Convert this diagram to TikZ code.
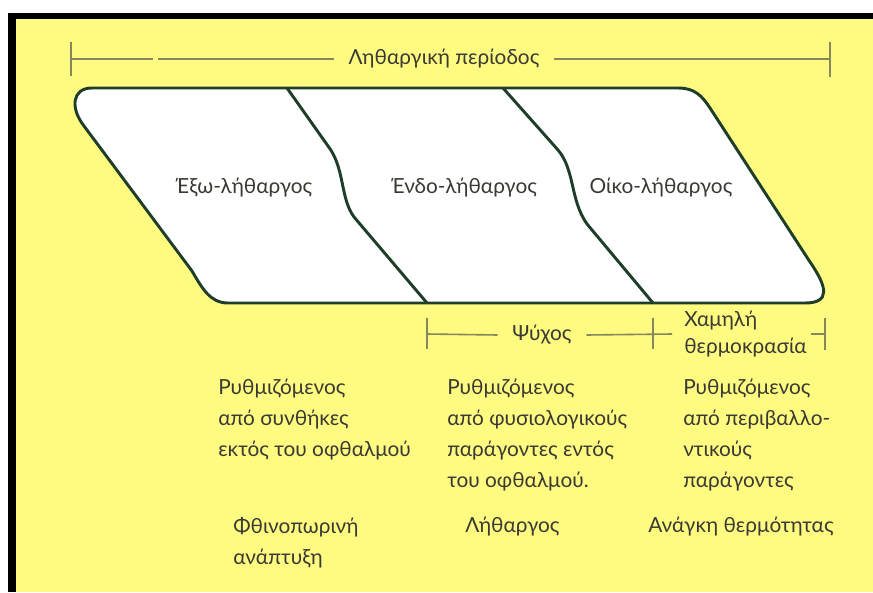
\documentclass[tikz,border=0pt]{standalone}
\usepackage{fontspec}
\setmainfont{Lato}
\definecolor{paper}{RGB}{255,250,128}
\definecolor{ink}{RGB}{58,58,52}
\definecolor{rim}{RGB}{30,62,42}
\definecolor{rule}{RGB}{135,135,95}
\begin{document}
\begin{tikzpicture}[x=0.75pt,y=-0.75pt,
  lbl/.style={text=ink,font=\fontsize{15.6}{23.2}\selectfont,inner sep=0pt},
  txt/.style={lbl,align=left,anchor=north west},
  rulebar/.style={draw=rule,line width=1.2pt}]
 \useasboundingbox (0,0) rectangle (873,592);
 % frame and paper
 \fill[white] (0,0) rectangle (873,592);
 \fill[black] (8,13) rectangle (873,592);
 \fill[paper] (16,19) rectangle (873,592);
 % lethargy shape
 \filldraw[fill=white,draw=rim,line width=2.2pt,line join=round]
  (92,88) -- (678,88) .. controls (695,88) and (702,96) .. (710,108)
  -- (810,262) .. controls (828,288) and (830,303) .. (805,303)
  -- (228,303) .. controls (210,303) and (202,288) .. (192,271)
  -- (84,126) .. controls (70,108) and (72,88) .. (92,88) -- cycle;
 \draw[draw=rim,line width=2.2pt] (287,88) -- (328,146)
  .. controls (345,168) and (340,198) .. (354,217) -- (427,303);
 \draw[draw=rim,line width=2.2pt] (503,88) -- (558,150)
  .. controls (575,170) and (570,200) .. (587,224) -- (653,303);
 \node[lbl] (exo) at (244,188) {Έξω-λήθαργος};
 \node[lbl] (endo) at (464,188) {Ένδο-λήθαργος};
 \node[lbl] (oiko) at (661,188) {Οίκο-λήθαργος};
 % top bracket
 \coordinate (tl) at (71,59);
 \coordinate (tr) at (830,59);
 \coordinate (brk1) at (153,59);
 \coordinate (brk2) at (158,59);
 \node[lbl,inner xsep=10.5pt] (period) at (444,59) {Ληθαργική περίοδος};
 \draw[rulebar] (tl) ++(0,-17) -- ++(0,34);
 \draw[rulebar] (tr) ++(0,-17) -- ++(0,35);
 \draw[rulebar] (tl) -- (brk1);
 \draw[rulebar] (brk2) -- (period.west);
 \draw[rulebar] (period.east) -- (tr);
 % bottom bracket
 \coordinate (bl) at (427,334);
 \coordinate (bm) at (653,334);
 \coordinate (bmr) at (672,334);
 \coordinate (br) at (825,334);
 \coordinate (brl) at (811,334);
 \node[lbl,inner xsep=11pt] (cold) at (542,335) {Ψύχος};
 \node[txt,font=\fontsize{15.6}{20.2}\selectfont] (lowtemp) at (684,311) {Χαμηλή\\θερμοκρασία};
 \draw[rulebar] (bl) ++(0,-16) -- ++(0,31);
 \draw[rulebar] (bm) ++(0,-16) -- ++(0,31);
 \draw[rulebar] (br) ++(0,-16) -- ++(0,32);
 \draw[rulebar] (bl) -- (cold.west);
 \draw[rulebar] (cold.east) -- (bmr);
 \draw[rulebar] (brl) -- (br);
 % columns
 \node[txt] (regext) at (218,379) {Ρυθμιζόμενος\\από συνθήκες\\εκτός του οφθαλμού};
 \node[txt] (regphys) at (447,379) {Ρυθμιζόμενος\\από φυσιολογικούς\\παράγοντες εντός\\του οφθαλμού.};
 \node[txt] (regenv) at (683,379) {Ρυθμιζόμενος\\από περιβαλλο-\\ντικούς\\παράγοντες};
 \node[txt] (autumn) at (233,517) {Φθινοπωρινή\\ανάπτυξη};
 \node[txt] (leth) at (465,517) {Λήθαργος};
 \node[txt] (heat) at (648,517) {Ανάγκη θερμότητας};
\end{tikzpicture}
\end{document}
